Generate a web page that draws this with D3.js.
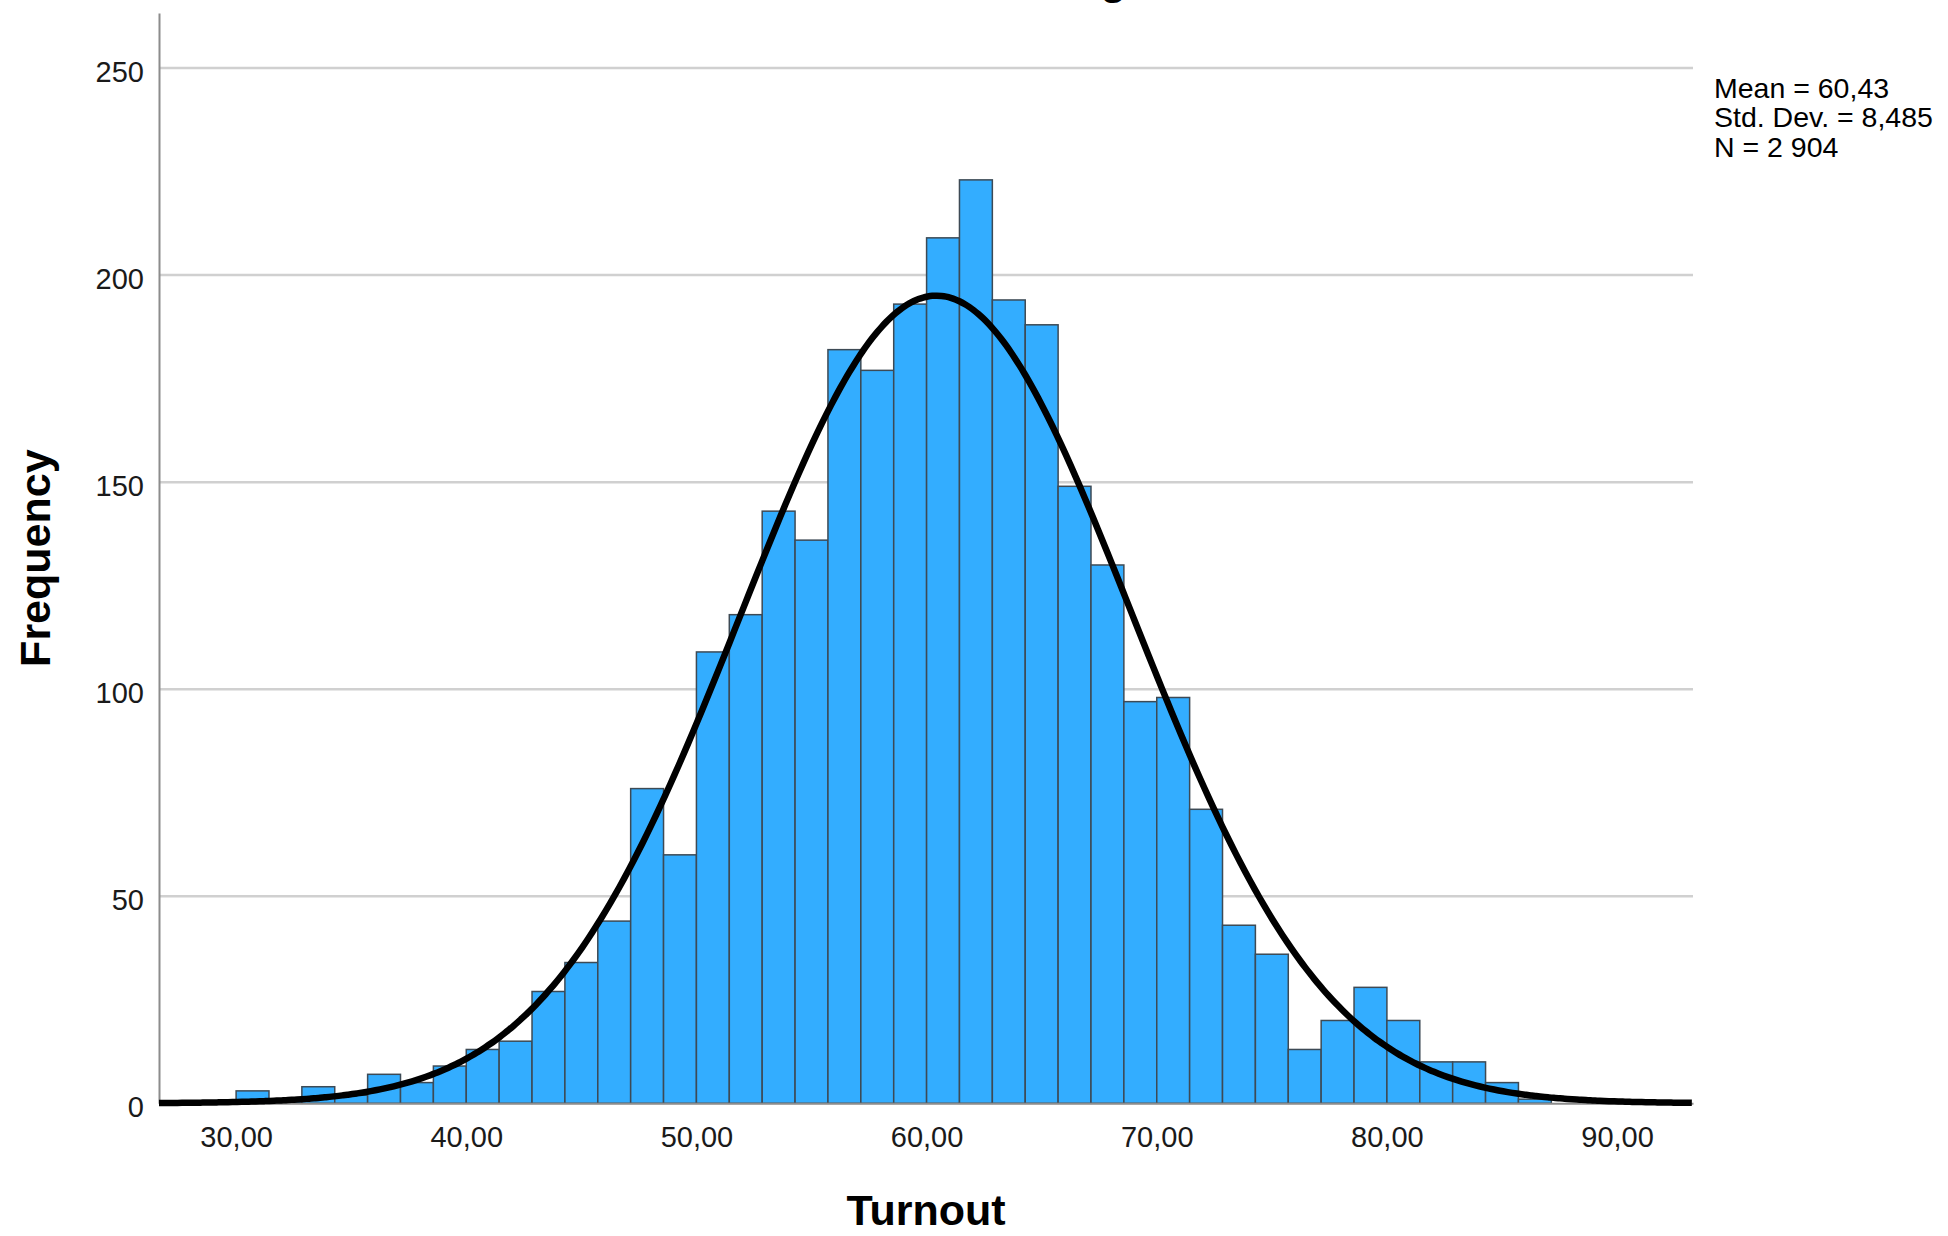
<!DOCTYPE html>
<html>
<head>
<meta charset="utf-8">
<script src="https://d3js.org/d3.v7.min.js"></script>
<style>
    body { margin: 0; background: #fff; }
    text { font-family: "Liberation Sans", Arial, sans-serif; fill: #1a1a1a; }
    .axis text { font-size: 29px; }
    .axis path { stroke: #8c8c8c; stroke-width: 2; }
    .grid { stroke: #d0d0d0; stroke-width: 2.5; }
    .bar { fill: #33adff; stroke: #3d4a55; stroke-width: 1.5; }
    .curve { fill: none; stroke: #000; stroke-width: 6.5; }
    .label { font-size: 43px; font-weight: bold; fill: #000; }
    .stats { font-size: 28.5px; fill: #000; }
</style>
</head>
<body>
<script>

// Histogram bins (Turnout)
var binStart = 30,
    binWidth = 1.4286;

var counts = [3, 1, 4, 2, 7, 5, 9, 13, 15, 27,
    34, 44, 76, 60, 109, 118, 143, 136, 182, 177,
    193, 209, 223, 194, 188, 149, 130, 97, 98, 71,
    43, 36, 13, 20, 28, 20, 10, 10, 5, 1];

// Summary statistics shown in the chart
var statMean = 60.43,
    statSd = 8.485,
    statN = 2904;

var statLines = ["Mean = 60,43", "Std. Dev. = 8,485", "N = 2 904"];

var xTicks = [30, 40, 50, 60, 70, 80, 90];
var yTicks = [0, 50, 100, 150, 200, 250];

// Set size and plot area
var width = 1948,
    height = 1236,
    plot = {left: 159, right: 1693, top: 13, bottom: 1103.3};

var svg = d3.select("body")
    .append("svg")
    .attr("width", width)
    .attr("height", height);

// Scales
var xScale = d3.scaleLinear()
    .domain([26.65, 93.3])
    .range([plot.left, plot.right]);

var yScale = d3.scaleLinear()
    .domain([0, 263.3])
    .range([plot.bottom, plot.top]);

// Comma as decimal mark
var locale = d3.formatLocale({decimal: ",", thousands: " ", grouping: [3], currency: ["", ""]});
var fmtX = locale.format(".2f");

// Gridlines
svg.append("g")
    .selectAll("line")
    .data(yTicks.filter(function(d) { return d > 0; }))
    .enter()
    .append("line")
    .attr("class", "grid")
    .attr("x1", plot.left)
    .attr("x2", plot.right)
    .attr("y1", function(d) { return yScale(d); })
    .attr("y2", function(d) { return yScale(d); });

// Bars
svg.append("g")
    .selectAll(".bar")
    .data(counts)
    .enter()
    .append("rect")
    .attr("class", "bar")
    .attr("x", function(d, i) { return xScale(binStart + i * binWidth); })
    .attr("width", function(d, i) { return xScale(binStart + (i + 1) * binWidth) - xScale(binStart + i * binWidth); })
    .attr("y", function(d) { return yScale(d); })
    .attr("height", function(d) { return yScale(0) - yScale(d); });

// Axes
var xAxis = d3.axisBottom(xScale)
    .tickValues(xTicks)
    .tickFormat(fmtX)
    .tickSize(0)
    .tickSizeOuter(0)
    .tickPadding(23);

var yAxis = d3.axisLeft(yScale)
    .tickValues(yTicks)
    .tickSize(0)
    .tickSizeOuter(0)
    .tickPadding(15);

svg.append("g")
    .attr("class", "x axis")
    .attr("transform", "translate(0," + plot.bottom + ")")
    .call(xAxis);

svg.append("g")
    .attr("class", "y axis")
    .attr("transform", "translate(" + plot.left + ",0)")
    .call(yAxis)
    .selectAll("text")
    .attr("dy", "0.45em");

svg.selectAll(".axis text").style("fill", "#1a1a1a");

// Normal curve from the stated mean, sd and N
var curveX = d3.range(xScale.domain()[0], xScale.domain()[1] + 0.01, 0.2);
var line = d3.line()
    .x(function(d) { return xScale(d); })
    .y(function(d) {
        var z = (d - statMean) / statSd;
        return yScale(statN * binWidth * Math.exp(-0.5 * z * z) / (statSd * Math.sqrt(2 * Math.PI)));
    })
    .curve(d3.curveBasis);

svg.append("path")
    .datum(curveX)
    .attr("class", "curve")
    .attr("d", line);

// Axis titles
svg.append("text")
    .attr("class", "label")
    .attr("x", (plot.left + plot.right) / 2)
    .attr("y", 1225)
    .attr("text-anchor", "middle")
    .text("Turnout");

svg.append("text")
    .attr("class", "label")
    .attr("transform", "translate(50," + (plot.top + plot.bottom) / 2 + ") rotate(-90)")
    .attr("text-anchor", "middle")
    .text("Frequency");

// Title (cut off at the top edge in the original)
svg.append("text")
    .attr("class", "label")
    .attr("x", 1099)
    .attr("y", -6)
    .attr("text-anchor", "middle")
    .text("Histogram");

// Statistics box
svg.append("g")
    .selectAll("text")
    .data(statLines)
    .enter()
    .append("text")
    .attr("class", "stats")
    .attr("x", 1714)
    .attr("y", function(d, i) { return 97.5 + i * 29.5; })
    .text(function(d) { return d; });

</script>
</body>
</html>
